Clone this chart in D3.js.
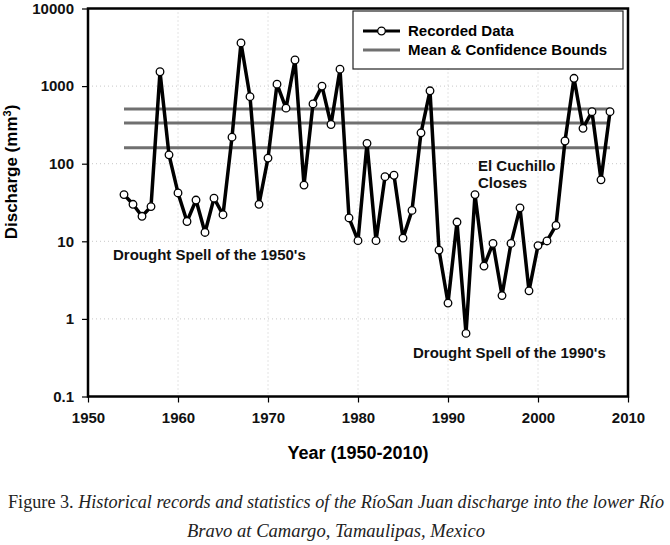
<!DOCTYPE html>
<html>
<head>
<meta charset="utf-8">
<script src="https://cdn.jsdelivr.net/npm/d3@7"></script>
<style>
  body { margin: 0; background: #fff; }
  text { font-family: "Liberation Sans", Arial, sans-serif; }
</style>
</head>
<body>
<div id="chart"></div>
<script>
// Data
const years = [1954, 1955, 1956, 1957, 1958, 1959, 1960, 1961, 1962, 1963, 1964, 1965, 1966, 1967, 1968, 1969,
  1970, 1971, 1972, 1973, 1974, 1975, 1976, 1977, 1978, 1979, 1980, 1981, 1982, 1983, 1984, 1985, 1986, 1987,
  1988, 1989, 1990, 1991, 1992, 1993, 1994, 1995, 1996, 1997, 1998, 1999, 2000, 2001, 2002, 2003, 2004, 2005,
  2006, 2007, 2008];
const discharge = [40, 30, 21, 28, 1530, 130, 42, 18, 34, 13, 36, 22, 220, 3600, 730, 30,
  118, 1060, 520, 2170, 53, 590, 1000, 320, 1650, 20, 10.2, 183, 10.2, 68, 71, 11, 25, 250,
  870, 7.7, 1.6, 17.7, 0.65, 40, 4.8, 9.4, 2.0, 9.4, 27, 2.3, 8.8, 10.1, 16, 196, 1260, 286,
  468, 62, 468];
// upper bound, mean, lower bound
const bounds = [507, 334, 161];
const xTicks = [1950, 1960, 1970, 1980, 1990, 2000, 2010];
const yTicks = [0.1, 1, 10, 100, 1000, 10000];

drawChart();

function drawChart() {
  const W = 670, H = 545;
  const left = 88, right = 628, top = 8.5, bottom = 396.5;

  const svg = d3.select("#chart").append("svg")
    .attr("width", W)
    .attr("height", H);

  const x = d3.scaleLinear().domain([1950, 2010]).range([left, right]);
  const y = d3.scaleLog().domain([0.1, 10000]).range([bottom, top]);

  // dotted grid
  svg.append("g")
    .selectAll("line")
    .data(xTicks.slice(1, -1))
    .join("line")
    .attr("x1", d => x(d)).attr("x2", d => x(d))
    .attr("y1", top).attr("y2", bottom)
    .attr("stroke", "#c8c8c8")
    .attr("stroke-dasharray", "1,3");
  svg.append("g")
    .selectAll("line")
    .data(yTicks.slice(1, -1))
    .join("line")
    .attr("x1", left).attr("x2", right)
    .attr("y1", d => y(d)).attr("y2", d => y(d))
    .attr("stroke", "#c8c8c8")
    .attr("stroke-dasharray", "1,3");

  // mean & confidence bounds
  svg.append("g")
    .selectAll("line")
    .data(bounds)
    .join("line")
    .attr("x1", x(years[0])).attr("x2", x(years[years.length - 1]))
    .attr("y1", d => y(d)).attr("y2", d => y(d))
    .attr("stroke", "#707070")
    .attr("stroke-width", 3);

  // recorded data
  const pts = years.map((yr, i) => [yr, discharge[i]]);
  svg.append("path")
    .datum(pts)
    .attr("fill", "none")
    .attr("stroke", "#000")
    .attr("stroke-width", 3.5)
    .attr("stroke-linejoin", "round")
    .attr("d", d3.line().x(d => x(d[0])).y(d => y(d[1])));
  svg.append("g")
    .selectAll("circle")
    .data(pts)
    .join("circle")
    .attr("cx", d => x(d[0]))
    .attr("cy", d => y(d[1]))
    .attr("r", 3.8)
    .attr("fill", "#fff")
    .attr("stroke", "#000")
    .attr("stroke-width", 1.3);

  // axes
  const xAxis = svg.append("g")
    .attr("transform", `translate(0,${bottom})`)
    .call(d3.axisBottom(x).tickValues(xTicks).tickFormat(d3.format("d")).tickSize(6).tickPadding(10));
  xAxis.select(".domain").remove();
  xAxis.selectAll("line").attr("stroke-width", 1.2);
  xAxis.selectAll("text")
    .style("font-size", "15px").style("font-weight", "bold")
    .attr("fill", "#111");

  const yAxis = svg.append("g")
    .attr("transform", `translate(${left},0)`)
    .call(d3.axisLeft(y).tickValues(yTicks).tickFormat(d => d < 1 ? "0.1" : d3.format("d")(d)).tickSize(6).tickPadding(8));
  yAxis.select(".domain").remove();
  yAxis.selectAll("line").attr("stroke-width", 1.2);
  yAxis.selectAll("text")
    .style("font-size", "15px").style("font-weight", "bold")
    .attr("fill", "#111");

  // plot frame
  svg.append("rect")
    .attr("x", left).attr("y", top)
    .attr("width", right - left).attr("height", bottom - top)
    .attr("fill", "none")
    .attr("stroke", "#000")
    .attr("stroke-width", 2.5);

  // legend
  const lg = svg.append("g");
  lg.append("rect")
    .attr("x", 353).attr("y", 11)
    .attr("width", 270).attr("height", 58)
    .attr("fill", "#fff")
    .attr("stroke", "#222")
    .attr("stroke-width", 1.2);
  lg.append("line")
    .attr("x1", 363).attr("x2", 400).attr("y1", 31).attr("y2", 31)
    .attr("stroke", "#000").attr("stroke-width", 3);
  lg.append("circle")
    .attr("cx", 381.5).attr("cy", 31).attr("r", 3.8)
    .attr("fill", "#fff").attr("stroke", "#000").attr("stroke-width", 1.3);
  lg.append("line")
    .attr("x1", 363).attr("x2", 400).attr("y1", 50).attr("y2", 50)
    .attr("stroke", "#707070").attr("stroke-width", 3);
  lg.selectAll("text.lab")
    .data(["Recorded Data", "Mean & Confidence Bounds"])
    .join("text")
    .attr("x", 408)
    .attr("y", (d, i) => 36 + i * 19)
    .style("font-size", "15px").style("font-weight", "bold")
    .text(d => d);

  // annotations
  const notes = [
    { t: "Drought Spell of the 1950's", x: 113, y: 260 },
    { t: "El Cuchillo", x: 478, y: 171 },
    { t: "Closes", x: 478, y: 188 },
    { t: "Drought Spell of the 1990's", x: 413, y: 358 }
  ];
  svg.append("g")
    .selectAll("text")
    .data(notes)
    .join("text")
    .attr("x", d => d.x).attr("y", d => d.y)
    .style("font-size", "15px").style("font-weight", "bold")
    .attr("fill", "#111")
    .text(d => d.t);

  // axis titles
  svg.append("text")
    .attr("x", 358).attr("y", 459)
    .attr("text-anchor", "middle")
    .style("font-size", "18px").style("font-weight", "bold")
    .text("Year (1950-2010)");

  const yt = svg.append("text")
    .attr("transform", "translate(17,172) rotate(-90)")
    .attr("text-anchor", "middle")
    .style("font-size", "17px").style("font-weight", "bold");
  yt.append("tspan").text("Discharge (mm");
  yt.append("tspan").attr("dy", -6).style("font-size", "11px").text("3");
  yt.append("tspan").attr("dy", 6).text(")");

  // caption
  const cap = svg.append("text")
    .attr("x", 336).attr("y", 508)
    .attr("text-anchor", "middle")
    .attr("textLength", 656).attr("lengthAdjust", "spacingAndGlyphs")
    .style("font-family", "'Liberation Serif', 'DejaVu Serif', serif")
    .style("font-size", "18px")
    .attr("fill", "#222");
  cap.append("tspan").text("Figure 3. ");
  cap.append("tspan").style("font-style", "italic")
    .text("Historical records and statistics of  the RíoSan Juan discharge into the lower Río");
  svg.append("text")
    .attr("x", 336).attr("y", 537)
    .attr("text-anchor", "middle")
    .attr("textLength", 298).attr("lengthAdjust", "spacingAndGlyphs")
    .style("font-family", "'Liberation Serif', 'DejaVu Serif', serif")
    .style("font-size", "18px").style("font-style", "italic")
    .attr("fill", "#222")
    .text("Bravo at Camargo, Tamaulipas, Mexico");
}
</script>
</body>
</html>
